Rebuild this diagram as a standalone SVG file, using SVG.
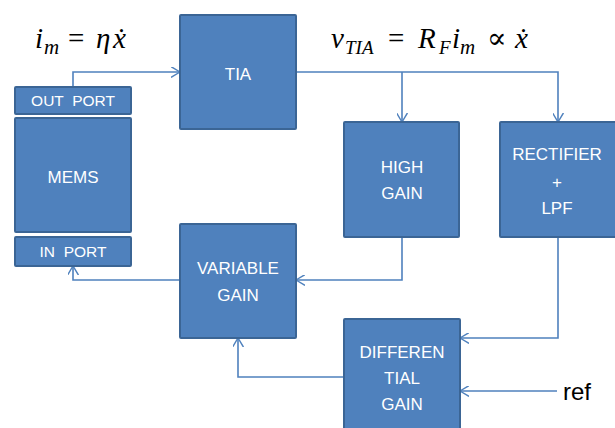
<svg xmlns="http://www.w3.org/2000/svg" width="615" height="428" viewBox="0 0 615 428">
<defs>
<style>
.box{fill:#4F81BD;stroke:#3B6595;stroke-width:2}
.lbl{font-family:"Liberation Sans",Arial,sans-serif;font-size:17px;fill:#FFFFFF;text-anchor:middle}
.sm{font-size:15.5px;white-space:pre}
.wire{fill:none;stroke:#4F81BD;stroke-width:1.6}
.math{font-family:"Liberation Serif","DejaVu Serif",serif;font-style:italic;font-size:29px;fill:#000}
.ref{font-family:"Liberation Sans",Arial,sans-serif;font-size:24px;fill:#000}
</style>
<marker id="arr" viewBox="0 0 10 12" refX="10" refY="6" markerWidth="9" markerHeight="11" markerUnits="userSpaceOnUse" orient="auto">
<path d="M0,0 L10,6 L0,12" fill="none" stroke="#4F81BD" stroke-width="1.6"/>
</marker>
</defs>
<rect width="615" height="428" fill="#FFFFFF"/>
<g id="eq1">
<text class="math"><tspan x="35" y="48">i</tspan><tspan x="44" y="54" font-size="21">m</tspan><tspan x="68" y="48" font-style="normal">=</tspan><tspan x="96" y="48">η</tspan><tspan x="113" y="48">ẋ</tspan></text>
</g>
<g id="eq2">
<text class="math"><tspan x="331" y="48">v</tspan><tspan x="345" y="54" font-size="19">TIA</tspan><tspan x="388" y="48" font-style="normal">=</tspan><tspan x="418" y="48">R</tspan><tspan x="439" y="54" font-size="19">F</tspan><tspan x="452" y="48">i</tspan><tspan x="460" y="54" font-size="21">m</tspan><tspan x="487" y="48" font-style="normal">∝</tspan><tspan x="515" y="48">ẋ</tspan></text>
</g>
<g id="connectors">
<path class="wire" d="M73,87 V72 H180" marker-end="url(#arr)"/>
<path class="wire" d="M296,72 H558 V122" marker-end="url(#arr)"/>
<path class="wire" d="M402,72 V122" marker-end="url(#arr)"/>
<path class="wire" d="M402,237 V280 H296" marker-end="url(#arr)"/>
<path class="wire" d="M180,280 H73 V266" marker-end="url(#arr)"/>
<path class="wire" d="M558,237 V338 H460" marker-end="url(#arr)"/>
<path class="wire" d="M557,391 H460" marker-end="url(#arr)"/>
<path class="wire" d="M344,377 H238 V338" marker-end="url(#arr)"/>
</g>
<g id="out-port"><rect class="box" x="15" y="87" width="116" height="27" rx="1"/><text class="lbl sm" x="73" y="106">OUT  PORT</text></g>
<g id="mems"><rect class="box" x="15" y="118" width="116" height="114" rx="1"/><text class="lbl" x="73" y="183">MEMS</text></g>
<g id="in-port"><rect class="box" x="15" y="237" width="116" height="29" rx="1"/><text class="lbl sm" x="73" y="257">IN  PORT</text></g>
<g id="tia"><rect class="box" x="180" y="15" width="116" height="114" rx="1"/><text class="lbl" x="238" y="80">TIA</text></g>
<g id="high-gain"><rect class="box" x="344" y="122" width="115" height="115" rx="1"/><text class="lbl" x="402" y="173">HIGH</text><text class="lbl" x="402" y="199">GAIN</text></g>
<g id="rectifier"><rect class="box" x="500" y="122" width="116" height="115" rx="1"/><text class="lbl" x="557" y="160">RECTIFIER</text><text class="lbl" x="557" y="188">+</text><text class="lbl" x="557" y="214">LPF</text></g>
<g id="variable-gain"><rect class="box" x="180" y="224" width="116" height="114" rx="1"/><text class="lbl" x="238" y="274">VARIABLE</text><text class="lbl" x="238" y="301">GAIN</text></g>
<g id="differential-gain"><rect class="box" x="344" y="319" width="116" height="114" rx="1"/><text class="lbl" x="402" y="358">DIFFEREN</text><text class="lbl" x="402" y="384">TIAL</text><text class="lbl" x="402" y="410">GAIN</text></g>
<g id="ref-label"><text class="ref" x="563" y="400">ref</text></g>
</svg>
